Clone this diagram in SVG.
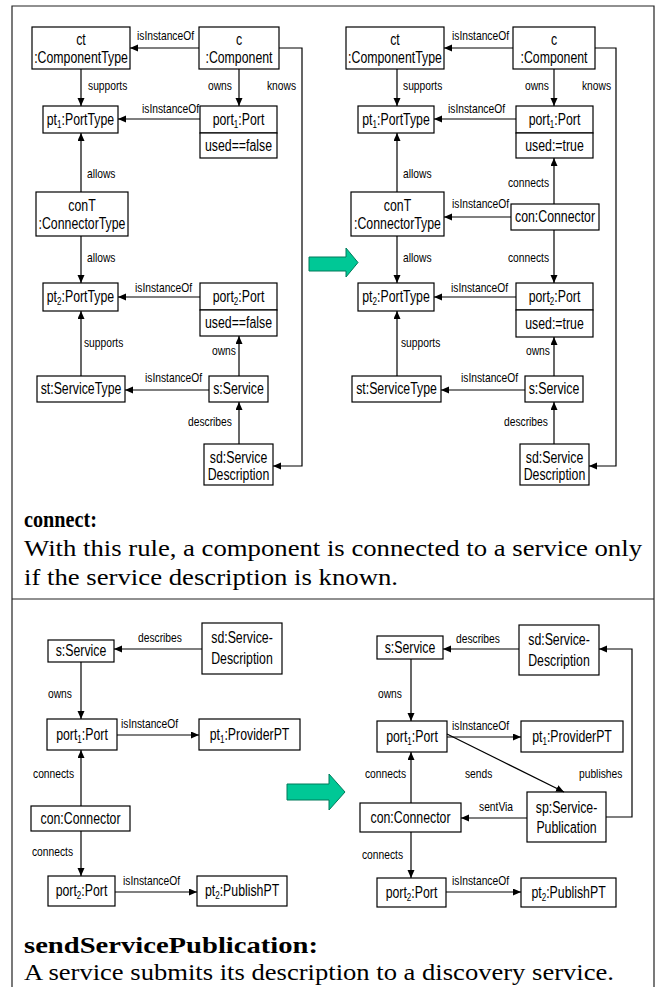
<svg xmlns="http://www.w3.org/2000/svg" width="657" height="987" viewBox="0 0 657 987">
  <style>
    .frame { fill: none; stroke: #222; stroke-width: 1.2; }
    .box { fill: #fff; stroke: #000; stroke-width: 1.2; }
    .edge { fill: none; stroke: #000; stroke-width: 1.2; }
    /* narrow sans look: condense the glyphs horizontally around each text's own box */
    .n { font-family: "Liberation Sans", Arial, sans-serif; font-size: 16px; text-anchor: middle; fill: #000;
         transform-box: fill-box; transform-origin: center; transform: scaleX(0.77); }
    .l text { font-family: "Liberation Sans", Arial, sans-serif; font-size: 13px; fill: #000;
         transform-box: fill-box; transform-origin: left center; transform: scaleX(0.79); }
    .sub { font-size: 10.5px; }
    .title { font-family: "Liberation Serif", "Times New Roman", serif; font-size: 23px; font-weight: bold; fill: #000; }
    .desc { font-family: "Liberation Serif", "Times New Roman", serif; font-size: 23px; fill: #000; }
    .big { fill: #00c896; stroke: #007a5a; stroke-width: 1; }
  </style>
  <defs>
    <marker id="ah" markerUnits="userSpaceOnUse" markerWidth="9" markerHeight="8" refX="8" refY="3.5" orient="auto">
      <path d="M0,0 L8,3.5 L0,7 z" fill="#000"/>
    </marker>
  </defs>

  <!-- outer frame and separator between the two rules -->
  <path class="frame" d="M12,987 V6 H654 V987"/>
  <path class="frame" d="M12,599 H654"/>

  <!-- rule transition arrows -->
  <path class="big" d="M309,257 H346 V248 L358,262.5 L346,277 V271 H309 Z"/>
  <path class="big" d="M287,784 H329 V774 L345,792 L329,810 V800 H287 Z"/>

  <!-- ===== connect: left-hand side ===== -->
  <g id="connect-lhs">
    <g id="l-ct"><rect class="box" x="32" y="27" width="98" height="42"/><text class="n" x="81" y="45">ct</text><text class="n" x="81" y="63">:ComponentType</text></g>
    <g id="l-c"><rect class="box" x="199" y="27" width="80" height="42"/><text class="n" x="239" y="45">c</text><text class="n" x="239" y="63">:Component</text></g>
    <g id="l-pt1"><rect class="box" x="43" y="106" width="75" height="27"/><text class="n" x="80.5" y="125">pt<tspan class="sub" dy="3">1</tspan><tspan dy="-3">:PortType</tspan></text></g>
    <g id="l-port1"><rect class="box" x="200" y="106" width="77" height="27"/><rect class="box" x="200" y="133" width="77" height="25"/><text class="n" x="238.5" y="125">port<tspan class="sub" dy="3">1</tspan><tspan dy="-3">:Port</tspan></text><text class="n" x="238.5" y="151">used==false</text></g>
    <g id="l-conT"><rect class="box" x="36" y="192" width="92" height="44"/><text class="n" x="82" y="211">conT</text><text class="n" x="82" y="229">:ConnectorType</text></g>
    <g id="l-pt2"><rect class="box" x="43" y="283" width="75" height="28"/><text class="n" x="80.5" y="302.5">pt<tspan class="sub" dy="3">2</tspan><tspan dy="-3">:PortType</tspan></text></g>
    <g id="l-port2"><rect class="box" x="200" y="283" width="77" height="27"/><rect class="box" x="200" y="310" width="77" height="26"/><text class="n" x="238.5" y="302">port<tspan class="sub" dy="3">2</tspan><tspan dy="-3">:Port</tspan></text><text class="n" x="238.5" y="328.5">used==false</text></g>
    <g id="l-st"><rect class="box" x="37" y="376" width="88" height="26"/><text class="n" x="81" y="394.5">st:ServiceType</text></g>
    <g id="l-s"><rect class="box" x="209" y="376" width="59" height="26"/><text class="n" x="238.5" y="394.5">s:Service</text></g>
    <g id="l-sd"><rect class="box" x="204" y="444" width="69" height="41"/><text class="n" x="238.5" y="463">sd:Service</text><text class="n" x="238.5" y="480">Description</text></g>
  </g>
  <g id="connect-lhs-edges" class="edge" marker-end="url(#ah)">
    <path d="M199,48 H130"/>
    <path d="M81,69 V106"/>
    <path d="M239,69 V106"/>
    <path d="M200,119 H118"/>
    <path d="M81,192 V133"/>
    <path d="M81,236 V283"/>
    <path d="M200,297 H118"/>
    <path d="M81,376 V311"/>
    <path d="M239,376 V336"/>
    <path d="M209,390 H125"/>
    <path d="M239,444 V402"/>
    <path d="M279,48 H302 V466 H273"/>
  </g>
  <g id="connect-lhs-labels" class="l">
    <text x="137" y="40">isInstanceOf</text>
    <text x="88" y="90">supports</text>
    <text x="208" y="90">owns</text>
    <text x="267" y="90">knows</text>
    <text x="142" y="113">isInstanceOf</text>
    <text x="87" y="178">allows</text>
    <text x="87" y="262">allows</text>
    <text x="135" y="292">isInstanceOf</text>
    <text x="84" y="347">supports</text>
    <text x="212" y="355">owns</text>
    <text x="145" y="382">isInstanceOf</text>
    <text x="188" y="426">describes</text>
  </g>

  <!-- ===== connect: right-hand side ===== -->
  <g id="connect-rhs">
    <g id="r-ct"><rect class="box" x="346" y="27" width="98" height="42"/><text class="n" x="395" y="45">ct</text><text class="n" x="395" y="63">:ComponentType</text></g>
    <g id="r-c"><rect class="box" x="513" y="27" width="82" height="42"/><text class="n" x="554" y="45">c</text><text class="n" x="554" y="63">:Component</text></g>
    <g id="r-pt1"><rect class="box" x="358" y="106" width="76" height="27"/><text class="n" x="396" y="125">pt<tspan class="sub" dy="3">1</tspan><tspan dy="-3">:PortType</tspan></text></g>
    <g id="r-port1"><rect class="box" x="516" y="106" width="77" height="27"/><rect class="box" x="516" y="133" width="77" height="25"/><text class="n" x="554.5" y="125">port<tspan class="sub" dy="3">1</tspan><tspan dy="-3">:Port</tspan></text><text class="n" x="554.5" y="151">used:=true</text></g>
    <g id="r-conT"><rect class="box" x="351" y="192" width="93" height="44"/><text class="n" x="397.5" y="211">conT</text><text class="n" x="397.5" y="229">:ConnectorType</text></g>
    <g id="r-con"><rect class="box" x="511" y="204" width="88" height="26"/><text class="n" x="555" y="222.5">con:Connector</text></g>
    <g id="r-pt2"><rect class="box" x="358" y="283" width="76" height="28"/><text class="n" x="396" y="302.5">pt<tspan class="sub" dy="3">2</tspan><tspan dy="-3">:PortType</tspan></text></g>
    <g id="r-port2"><rect class="box" x="516" y="283" width="77" height="27"/><rect class="box" x="516" y="310" width="77" height="27"/><text class="n" x="554.5" y="302">port<tspan class="sub" dy="3">2</tspan><tspan dy="-3">:Port</tspan></text><text class="n" x="554.5" y="329">used:=true</text></g>
    <g id="r-st"><rect class="box" x="352" y="376" width="89" height="26"/><text class="n" x="396.5" y="394.5">st:ServiceType</text></g>
    <g id="r-s"><rect class="box" x="525" y="376" width="58" height="26"/><text class="n" x="554" y="394.5">s:Service</text></g>
    <g id="r-sd"><rect class="box" x="520" y="444" width="69" height="41"/><text class="n" x="554.5" y="463">sd:Service</text><text class="n" x="554.5" y="480">Description</text></g>
  </g>
  <g id="connect-rhs-edges" class="edge" marker-end="url(#ah)">
    <path d="M513,48 H444"/>
    <path d="M397,69 V106"/>
    <path d="M554,69 V106"/>
    <path d="M516,119 H434"/>
    <path d="M397,192 V133"/>
    <path d="M554,204 V158"/>
    <path d="M511,217 H444"/>
    <path d="M397,236 V283"/>
    <path d="M554,230 V283"/>
    <path d="M516,297 H434"/>
    <path d="M397,376 V311"/>
    <path d="M554,376 V337"/>
    <path d="M525,390 H441"/>
    <path d="M554,444 V402"/>
    <path d="M595,48 H616 V466 H589"/>
  </g>
  <g id="connect-rhs-labels" class="l">
    <text x="452" y="40">isInstanceOf</text>
    <text x="403" y="90">supports</text>
    <text x="525" y="90">owns</text>
    <text x="582" y="90">knows</text>
    <text x="448" y="113">isInstanceOf</text>
    <text x="403" y="178">allows</text>
    <text x="508" y="187">connects</text>
    <text x="452" y="208">isInstanceOf</text>
    <text x="403" y="262">allows</text>
    <text x="508" y="262">connects</text>
    <text x="451" y="292">isInstanceOf</text>
    <text x="401" y="347">supports</text>
    <text x="526" y="355">owns</text>
    <text x="461" y="382">isInstanceOf</text>
    <text x="504" y="426">describes</text>
  </g>

  <text class="title" x="24" y="527" textLength="73" lengthAdjust="spacingAndGlyphs">connect:</text>
  <text class="desc" x="24" y="556" textLength="618" lengthAdjust="spacingAndGlyphs">With this rule, a component is connected to a service only</text>
  <text class="desc" x="24" y="585" textLength="374" lengthAdjust="spacingAndGlyphs">if the service description is known.</text>

  <!-- ===== sendServicePublication: left-hand side ===== -->
  <g id="publish-lhs">
    <g id="p-l-s"><rect class="box" x="48" y="640" width="66" height="22"/><text class="n" x="81" y="656.5">s:Service</text></g>
    <g id="p-l-sd"><rect class="box" x="202" y="623" width="80" height="51"/><text class="n" x="242" y="643">sd:Service-</text><text class="n" x="242" y="664">Description</text></g>
    <g id="p-l-port1"><rect class="box" x="47" y="719" width="70" height="31"/><text class="n" x="82" y="740">port<tspan class="sub" dy="3">1</tspan><tspan dy="-3">:Port</tspan></text></g>
    <g id="p-l-pt1"><rect class="box" x="199" y="719" width="101" height="31"/><text class="n" x="249.5" y="740">pt<tspan class="sub" dy="3">1</tspan><tspan dy="-3">:ProviderPT</tspan></text></g>
    <g id="p-l-con"><rect class="box" x="31" y="806" width="99" height="25"/><text class="n" x="80.5" y="824">con:Connector</text></g>
    <g id="p-l-port2"><rect class="box" x="48" y="876" width="67" height="30"/><text class="n" x="81.5" y="896">port<tspan class="sub" dy="3">2</tspan><tspan dy="-3">:Port</tspan></text></g>
    <g id="p-l-pt2"><rect class="box" x="197" y="876" width="90" height="30"/><text class="n" x="242" y="896">pt<tspan class="sub" dy="3">2</tspan><tspan dy="-3">:PublishPT</tspan></text></g>
  </g>
  <g id="publish-lhs-edges" class="edge" marker-end="url(#ah)">
    <path d="M202,649 H114"/>
    <path d="M81,662 V719"/>
    <path d="M117,735 H199"/>
    <path d="M81,806 V750"/>
    <path d="M81,831 V876"/>
    <path d="M115,892 H197"/>
  </g>
  <g id="publish-lhs-labels" class="l">
    <text x="138" y="642">describes</text>
    <text x="48" y="698">owns</text>
    <text x="121" y="728">isInstanceOf</text>
    <text x="33" y="778">connects</text>
    <text x="32" y="856">connects</text>
    <text x="123" y="885">isInstanceOf</text>
  </g>

  <!-- ===== sendServicePublication: right-hand side ===== -->
  <g id="publish-rhs">
    <g id="p-r-s"><rect class="box" x="377" y="636" width="66" height="23"/><text class="n" x="410" y="653">s:Service</text></g>
    <g id="p-r-sd"><rect class="box" x="519" y="625" width="80" height="50"/><text class="n" x="559" y="645">sd:Service-</text><text class="n" x="559" y="666">Description</text></g>
    <g id="p-r-port1"><rect class="box" x="377" y="721" width="70" height="31"/><text class="n" x="412" y="742">port<tspan class="sub" dy="3">1</tspan><tspan dy="-3">:Port</tspan></text></g>
    <g id="p-r-pt1"><rect class="box" x="521" y="721" width="102" height="31"/><text class="n" x="572" y="742">pt<tspan class="sub" dy="3">1</tspan><tspan dy="-3">:ProviderPT</tspan></text></g>
    <g id="p-r-con"><rect class="box" x="360" y="803" width="101" height="29"/><text class="n" x="410.5" y="823">con:Connector</text></g>
    <g id="p-r-sp"><rect class="box" x="527" y="792" width="79" height="50"/><text class="n" x="566.5" y="813">sp:Service-</text><text class="n" x="566.5" y="833">Publication</text></g>
    <g id="p-r-port2"><rect class="box" x="377" y="878" width="69" height="29"/><text class="n" x="411.5" y="898">port<tspan class="sub" dy="3">2</tspan><tspan dy="-3">:Port</tspan></text></g>
    <g id="p-r-pt2"><rect class="box" x="521" y="878" width="95" height="29"/><text class="n" x="568.5" y="898">pt<tspan class="sub" dy="3">2</tspan><tspan dy="-3">:PublishPT</tspan></text></g>
  </g>
  <g id="publish-rhs-edges" class="edge" marker-end="url(#ah)">
    <path d="M519,649 H443"/>
    <path d="M411,659 V721"/>
    <path d="M447,737 H521"/>
    <path d="M447,734 L564,792"/>
    <path d="M411,803 V752"/>
    <path d="M411,832 V878"/>
    <path d="M527,818 H461"/>
    <path d="M606,817 H632 V649 H599"/>
    <path d="M446,892 H521"/>
  </g>
  <g id="publish-rhs-labels" class="l">
    <text x="456" y="643">describes</text>
    <text x="378" y="698">owns</text>
    <text x="452" y="730">isInstanceOf</text>
    <text x="365" y="778">connects</text>
    <text x="465" y="778">sends</text>
    <text x="579" y="778">publishes</text>
    <text x="479" y="811">sentVia</text>
    <text x="362" y="859">connects</text>
    <text x="452" y="885">isInstanceOf</text>
  </g>

  <text class="title" x="24" y="953" textLength="294" lengthAdjust="spacingAndGlyphs">sendServicePublication:</text>
  <text class="desc" x="24" y="980" textLength="590" lengthAdjust="spacingAndGlyphs">A service submits its description to a discovery service.</text>
</svg>
